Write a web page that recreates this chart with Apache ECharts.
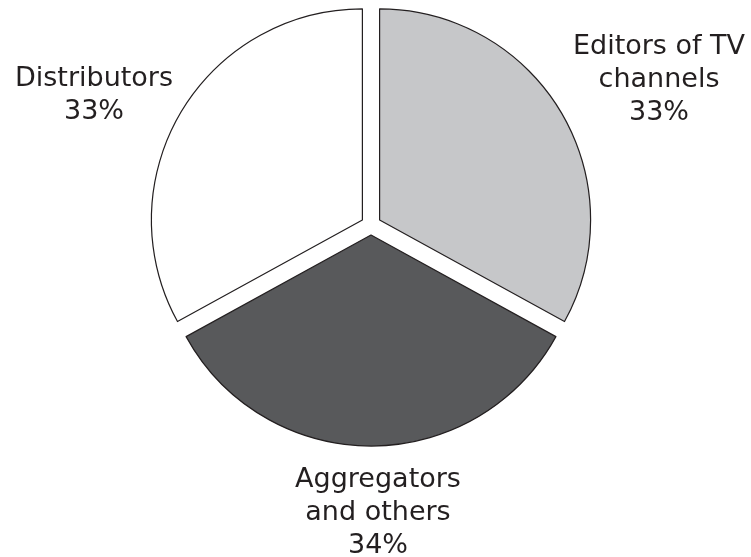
<!DOCTYPE html>
<html>
<head>
<meta charset="utf-8">
<script src="https://cdn.jsdelivr.net/npm/echarts@6/dist/echarts.min.js"></script>
<style>
  html, body { margin: 0; padding: 0; background: #ffffff; }
  #chart { width: 751px; height: 557px; }
</style>
</head>
<body>
<div id="chart"></div>
<script>
// Share of players, by segment (%)
const categories = ['Editors of TV\nchannels', 'Aggregators\nand others', 'Distributors'];
const shares = [33, 34, 33];

// Fill per slice
const sliceColors = ['#c6c7c9', '#58595b', '#ffffff'];

// Top-centre anchor of each label block
const labelAnchors = [[659, 30], [378, 463], [94, 62]];

const PIE_CENTER = [371, 225];
const PIE_RADIUS = 211;

const chart = echarts.init(document.getElementById('chart'), null, { renderer: 'canvas' });

chart.setOption({
  animation: false,
  backgroundColor: '#ffffff',
  series: [
    {
      // exploded slices
      type: 'pie',
      center: PIE_CENTER,
      radius: [0, PIE_RADIUS],
      startAngle: 90,
      clockwise: true,
      selectedMode: 'multiple',
      selectedOffset: 10,
      silent: true,
      itemStyle: { borderColor: '#231f20', borderWidth: 1.2 },
      label: { show: false },
      labelLine: { show: false },
      emphasis: { disabled: true },
      data: categories.map(function (name, i) {
        return { name: name, value: shares[i], selected: true, itemStyle: { color: sliceColors[i] } };
      })
    },
    {
      // category labels, same values, no visible fill
      type: 'pie',
      center: PIE_CENTER,
      radius: [0, PIE_RADIUS],
      startAngle: 90,
      clockwise: true,
      silent: true,
      selectedMode: false,
      itemStyle: { color: 'rgba(0,0,0,0)', borderWidth: 0 },
      label: {
        show: true,
        position: 'inside',
        overflow: 'none',
        formatter: '{b}\n{c}%',
        fontFamily: 'DejaVu Sans',
        fontSize: 27,
        lineHeight: 33,
        color: '#231f20',
        align: 'center'
      },
      labelLine: { show: false },
      labelLayout: function (params) {
        const a = labelAnchors[params.dataIndex];
        return { x: a[0], y: a[1], align: 'center', verticalAlign: 'top' };
      },
      emphasis: { disabled: true },
      data: categories.map(function (name, i) {
        return { name: name, value: shares[i] };
      })
    }
  ]
});
</script>
</body>
</html>
